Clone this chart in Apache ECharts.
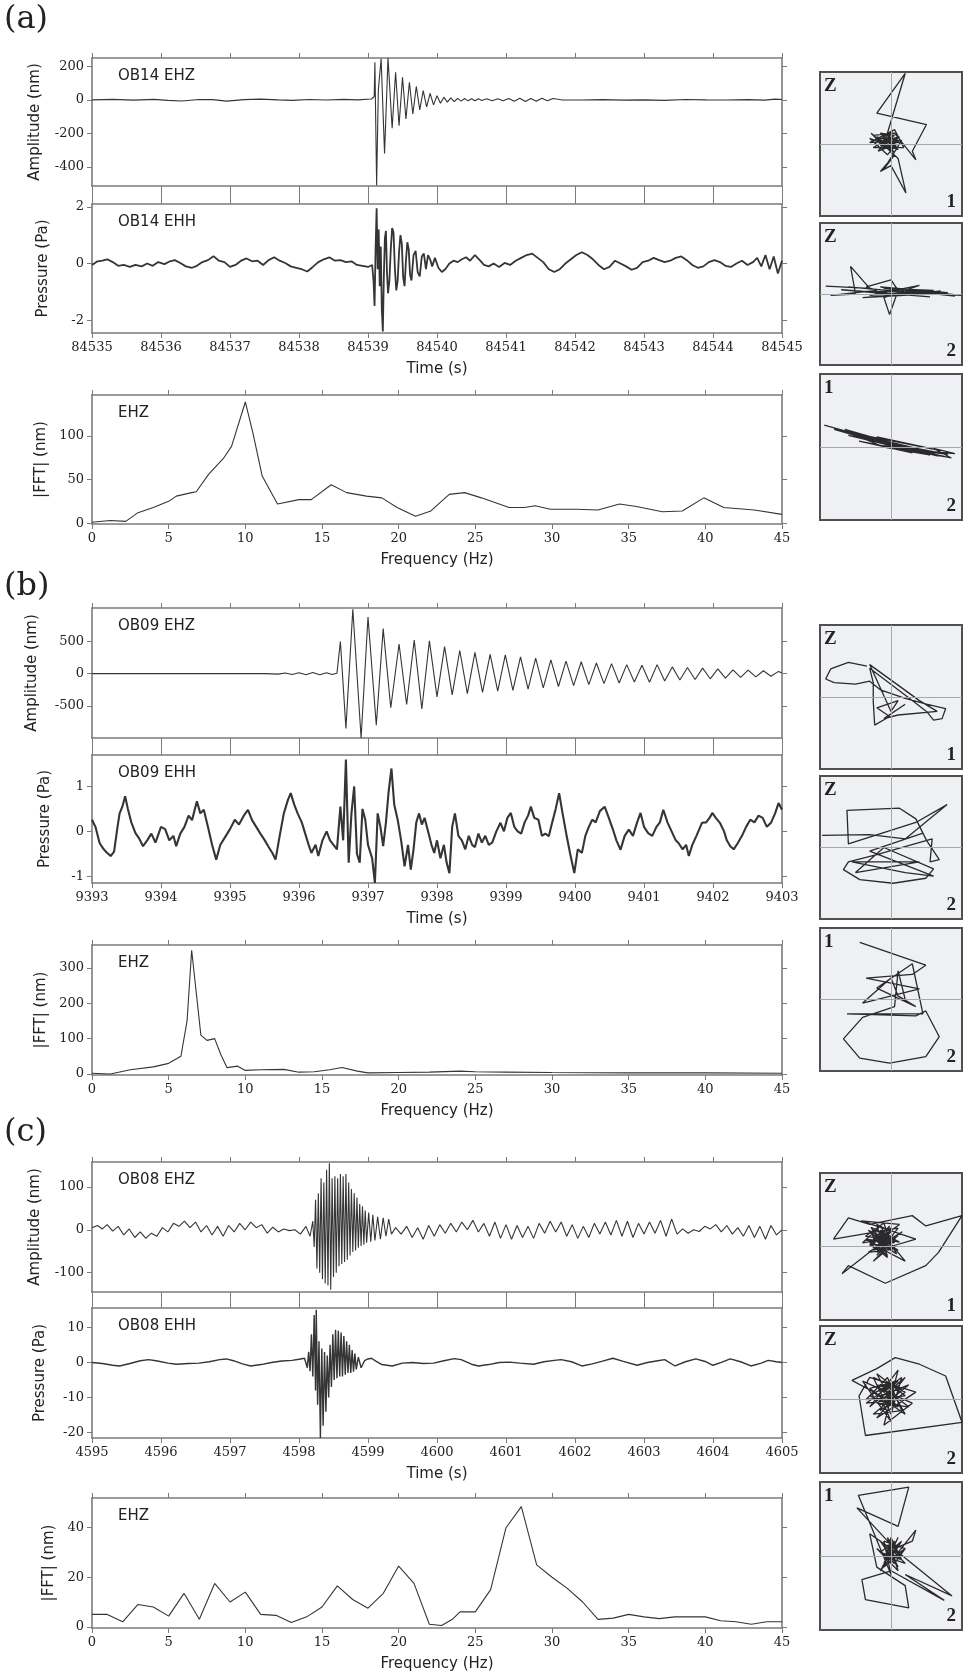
<!DOCTYPE html>
<html><head><meta charset="utf-8">
<script src="https://cdn.jsdelivr.net/npm/echarts@6/dist/echarts.min.js"></script>
<style>html,body{margin:0;padding:0;background:#fff}#c{width:965px;height:1680px}</style>
</head><body><div id="c"></div>
<script>
// ---------- DATA ----------
// (a) OB14
const aEhz = [[84535.00,0],[84535.30,3],[84535.60,-2],[84535.90,3],[84536.10,-3],[84536.30,-7],[84536.55,2],[84536.75,1],[84536.95,-8],[84537.20,1],[84537.45,4],[84537.70,0],[84537.90,-3],[84538.15,2],[84538.40,-1],[84538.65,3],[84538.85,0],[84539.05,5],
[84539.09,20],[84539.10,225],[84539.125,-510],[84539.15,60],[84539.19,245],[84539.24,-320],[84539.29,250],[84539.35,-170],[84539.40,165],[84539.45,-155],[84539.50,135],[84539.55,-115],[84539.60,105],[84539.65,-85],[84539.70,80],[84539.75,-60],[84539.80,55],[84539.85,-42],[84539.90,38],[84539.95,-30],[84540.00,25],[84540.05,-20],[84540.10,16],[84540.15,-14],[84540.20,12],[84540.25,-10],[84540.30,9],[84540.35,-8],[84540.40,8],[84540.45,-6],[84540.50,6],[84540.55,-5],[84540.60,6],[84540.65,-4],[84540.72,6],[84540.80,-5],[84540.88,7],[84540.96,-6],[84541.04,8],[84541.12,-8],[84541.20,9],[84541.28,-10],[84541.36,8],[84541.44,-9],[84541.52,10],[84541.60,-6],[84541.68,8],[84541.80,0],[84542.10,-1],[84542.40,1],[84542.70,-2],[84543.00,0],[84543.30,-3],[84543.60,2],[84543.90,0],[84544.20,-1],[84544.50,1],[84544.75,-2],[84544.90,4],[84545.00,2]];
const aEhh = [[84535.00,-0.05],[84535.08,0.08],[84535.15,0.1],[84535.22,0.15],[84535.30,0.05],[84535.38,-0.08],[84535.46,-0.05],[84535.55,-0.12],[84535.63,-0.05],[84535.72,-0.1],[84535.80,0.0],[84535.88,-0.08],[84535.96,0.05],[84536.05,-0.02],[84536.13,0.08],[84536.20,0.12],[84536.28,0.02],[84536.36,-0.1],[84536.45,-0.15],[84536.52,-0.08],[84536.60,0.05],[84536.68,0.12],[84536.76,0.26],[84536.84,0.1],[84536.92,0.05],[84537.00,-0.12],[84537.08,-0.05],[84537.16,0.1],[84537.24,0.18],[84537.32,0.08],[84537.40,0.1],[84537.48,-0.05],[84537.56,0.12],[84537.64,0.22],[84537.72,0.1],[84537.80,0.02],[84537.88,-0.1],[84537.96,-0.15],[84538.04,-0.2],[84538.12,-0.28],[84538.20,-0.12],[84538.28,0.05],[84538.36,0.15],[84538.44,0.22],[84538.52,0.1],[84538.60,0.12],[84538.68,0.05],[84538.76,0.08],[84538.84,-0.05],[84538.92,-0.08],[84539.00,-0.12],[84539.06,-0.05],
[84539.08,-0.6],[84539.095,-1.5],[84539.11,0.5],[84539.125,1.95],[84539.14,-0.2],[84539.155,1.2],[84539.17,-0.8],[84539.185,0.6],[84539.20,-1.6],[84539.215,-2.4],[84539.23,-0.4],[84539.245,0.9],[84539.26,1.15],[84539.275,-0.3],[84539.29,-1.05],[84539.31,-0.6],[84539.33,0.5],[84539.35,1.25],[84539.37,1.1],[84539.39,-0.2],[84539.41,-0.95],[84539.43,-0.6],[84539.45,0.4],[84539.47,1.0],[84539.49,0.7],[84539.51,-0.5],[84539.53,-0.8],[84539.55,0.1],[84539.57,0.75],[84539.59,0.5],[84539.61,-0.4],[84539.63,-0.6],[84539.66,0.3],[84539.69,0.45],[84539.72,-0.3],[84539.75,-0.45],[84539.78,0.25],[84539.81,0.35],[84539.84,-0.2],[84539.87,0.3],[84539.90,0.15],[84539.93,-0.1],[84539.97,0.2],[84540.02,-0.15],[84540.07,-0.3],[84540.12,-0.2],[84540.18,0.0],[84540.24,0.1],[84540.30,0.05],[84540.36,0.15],[84540.42,0.22],[84540.48,0.1],[84540.55,0.3],[84540.62,0.12],[84540.68,-0.05],[84540.75,-0.1],[84540.82,0.0],[84540.90,-0.12],[84540.98,0.02],[84541.06,-0.05],[84541.14,0.1],[84541.22,0.2],[84541.30,0.3],[84541.38,0.35],[84541.46,0.2],[84541.54,0.05],[84541.62,-0.2],[84541.70,-0.3],[84541.78,-0.2],[84541.86,0.0],[84541.94,0.15],[84542.02,0.3],[84542.10,0.4],[84542.18,0.3],[84542.26,0.15],[84542.34,-0.05],[84542.42,-0.2],[84542.50,-0.12],[84542.58,0.1],[84542.66,0.0],[84542.74,-0.1],[84542.82,-0.22],[84542.90,-0.15],[84542.98,0.05],[84543.06,0.1],[84543.14,0.2],[84543.22,0.12],[84543.30,0.05],[84543.38,0.1],[84543.46,0.2],[84543.54,0.25],[84543.62,0.12],[84543.70,-0.05],[84543.78,-0.15],[84543.86,-0.1],[84543.94,0.05],[84544.02,0.12],[84544.10,0.05],[84544.18,-0.08],[84544.26,-0.12],[84544.34,0.0],[84544.42,0.1],[84544.50,-0.05],[84544.58,0.05],[84544.64,0.2],[84544.70,-0.1],[84544.76,0.3],[84544.82,-0.2],[84544.88,0.25],[84544.94,-0.35],[84545.00,0.1]];
const aFreq = [0,1.2,2.2,3,4,5,5.5,6.5,6.8,7.6,8.6,9.1,10,10.5,11.1,12.1,13.5,14.3,15.6,16.6,17.9,18.9,19.9,21.1,22.1,23.3,24.3,25.4,27.2,28.2,28.9,29.9,31.6,33,34.4,35.5,37.2,38.5,39.9,41.2,43.2,45];
const aAmp  = [1,3,2,12,18,25,31,35,36,56,75,88,139,103,54,22,27,27,44,35,31,29,18,8,14,33,35,29,18,18,20,16,16,15,22,19,13,14,29,18,15,10];

// (b) OB09
const bEhz = [[9393.0,0],[9395.5,0],[9395.7,-8],[9395.8,10],[9395.9,-12],[9396.0,14],[9396.1,-16],[9396.2,18],[9396.3,-18],[9396.4,15],[9396.48,-12],[9396.55,5],[9396.6,500],[9396.68,-850],[9396.78,1000],[9396.9,-1000],[9397.0,880],[9397.12,-800],[9397.22,700],[9397.33,-530],[9397.45,460],[9397.56,-480],[9397.67,520],[9397.78,-550],[9397.89,510],[9398.0,-360],[9398.11,420],[9398.22,-330],[9398.33,360],[9398.44,-310],[9398.55,330],[9398.66,-290],[9398.77,300],[9398.88,-270],[9398.99,290],[9399.1,-260],[9399.21,260],[9399.32,-240],[9399.43,240],[9399.54,-220],[9399.65,215],[9399.76,-200],[9399.87,195],[9399.98,-185],[9400.09,185],[9400.2,-170],[9400.31,165],[9400.42,-155],[9400.53,155],[9400.64,-145],[9400.75,140],[9400.86,-130],[9400.97,130],[9401.08,-135],[9401.19,140],[9401.3,-115],[9401.41,105],[9401.52,-100],[9401.63,95],[9401.74,-90],[9401.85,85],[9401.96,-80],[9402.07,75],[9402.18,-70],[9402.29,60],[9402.4,-58],[9402.51,55],[9402.62,-50],[9402.73,45],[9402.84,-40],[9402.95,35],[9403.0,10]];
const bEhh = [[9393.00,0.26],[9393.05,0.1],[9393.11,-0.26],[9393.17,-0.4],[9393.22,-0.48],[9393.27,-0.55],[9393.32,-0.45],[9393.37,0.1],[9393.40,0.4],[9393.44,0.55],[9393.48,0.78],[9393.52,0.5],[9393.57,0.2],[9393.63,-0.04],[9393.68,-0.15],[9393.74,-0.33],[9393.80,-0.2],[9393.86,-0.05],[9393.92,-0.25],[9394.00,0.1],[9394.06,0.05],[9394.12,-0.2],[9394.18,-0.1],[9394.22,-0.33],[9394.28,-0.05],[9394.34,0.1],[9394.40,0.35],[9394.45,0.25],[9394.52,0.67],[9394.57,0.4],[9394.62,0.48],[9394.68,0.1],[9394.74,-0.3],[9394.80,-0.63],[9394.86,-0.3],[9394.92,-0.15],[9395.00,0.05],[9395.07,0.26],[9395.13,0.15],[9395.20,0.35],[9395.26,0.48],[9395.32,0.25],[9395.38,0.1],[9395.44,-0.05],[9395.50,-0.19],[9395.56,-0.35],[9395.62,-0.5],[9395.66,-0.63],[9395.72,-0.1],[9395.78,0.4],[9395.84,0.7],[9395.88,0.85],[9395.93,0.6],[9395.98,0.4],[9396.04,0.2],[9396.10,-0.1],[9396.14,-0.3],[9396.18,-0.48],[9396.24,-0.3],[9396.28,-0.55],[9396.34,-0.2],[9396.40,0.0],[9396.45,-0.2],[9396.50,-0.3],[9396.55,-0.4],[9396.60,0.55],[9396.64,-0.2],[9396.68,1.6],[9396.72,-0.7],[9396.76,0.4],[9396.80,1.0],[9396.84,-0.5],[9396.88,-0.7],[9396.92,0.5],[9396.96,0.26],[9397.00,-0.3],[9397.06,-0.6],[9397.10,-1.15],[9397.14,0.4],[9397.18,0.1],[9397.22,-0.33],[9397.26,0.2],[9397.30,0.9],[9397.34,1.4],[9397.38,0.6],[9397.43,0.26],[9397.48,-0.2],[9397.53,-0.78],[9397.58,-0.3],[9397.62,-0.85],[9397.66,-0.4],[9397.70,0.2],[9397.74,0.4],[9397.78,0.15],[9397.82,0.3],[9397.87,0.0],[9397.92,-0.3],[9397.96,-0.48],[9398.00,-0.2],[9398.05,-0.6],[9398.10,-0.3],[9398.14,-0.7],[9398.18,-0.93],[9398.22,0.1],[9398.26,0.4],[9398.31,-0.1],[9398.36,-0.2],[9398.41,-0.4],[9398.46,-0.1],[9398.51,-0.3],[9398.55,-0.35],[9398.60,-0.05],[9398.65,-0.25],[9398.70,-0.1],[9398.75,-0.3],[9398.80,-0.25],[9398.86,0.0],[9398.92,0.19],[9398.97,0.0],[9399.02,0.3],[9399.07,0.41],[9399.12,0.1],[9399.17,0.0],[9399.22,-0.05],[9399.27,0.2],[9399.32,0.35],[9399.36,0.55],[9399.41,0.3],[9399.47,0.26],[9399.52,-0.1],[9399.57,-0.05],[9399.62,-0.11],[9399.67,0.2],[9399.72,0.5],[9399.77,0.85],[9399.82,0.4],[9399.88,-0.11],[9399.93,-0.5],[9399.99,-0.93],[9400.04,-0.4],[9400.10,-0.48],[9400.15,-0.1],[9400.20,0.1],[9400.25,0.26],[9400.30,0.2],[9400.36,0.45],[9400.43,0.55],[9400.49,0.3],[9400.55,0.04],[9400.60,-0.2],[9400.66,-0.41],[9400.72,-0.1],[9400.78,0.04],[9400.84,-0.1],[9400.90,0.2],[9400.95,0.41],[9401.00,0.1],[9401.06,-0.04],[9401.12,-0.1],[9401.18,0.1],[9401.23,0.2],[9401.28,0.48],[9401.34,0.2],[9401.40,0.0],[9401.46,-0.2],[9401.50,-0.26],[9401.56,-0.4],[9401.61,-0.3],[9401.65,-0.55],[9401.70,-0.3],[9401.76,-0.1],[9401.84,0.19],[9401.90,0.2],[9401.95,0.3],[9401.99,0.41],[9402.04,0.3],[9402.10,0.19],[9402.16,0.0],[9402.20,-0.2],[9402.25,-0.33],[9402.30,-0.4],[9402.36,-0.26],[9402.42,-0.1],[9402.48,0.1],[9402.54,0.26],[9402.60,0.2],[9402.66,0.35],[9402.72,0.3],[9402.78,0.1],[9402.84,0.19],[9402.90,0.4],[9402.95,0.63],[9403.00,0.48]];
const bFreq = [0,1.2,2.5,4,5,5.8,6.2,6.5,6.8,7.1,7.5,8,8.4,8.8,9.5,10,11,12.5,13.5,14.5,15.5,16.3,17.3,18,20,22,24,25,27,30,35,40,45];
const bAmp  = [2,0,12,20,30,50,150,350,230,110,95,100,55,18,22,10,12,13,5,6,12,18,8,3,4,5,8,6,5,4,3,3,2];

// (c) OB08
const cEhz = [[4595.00,5],[4595.08,10],[4595.15,2],[4595.22,12],[4595.30,-3],[4595.38,8],[4595.46,-12],[4595.54,2],[4595.62,-18],[4595.70,-5],[4595.78,-20],[4595.86,-8],[4595.94,-15],[4596.02,5],[4596.10,-5],[4596.18,15],[4596.26,8],[4596.34,20],[4596.42,5],[4596.50,18],[4596.58,-5],[4596.66,10],[4596.74,-12],[4596.82,8],[4596.90,-15],[4596.98,10],[4597.06,-5],[4597.14,15],[4597.22,0],[4597.30,18],[4597.38,5],[4597.46,12],[4597.54,-8],[4597.62,6],[4597.70,-5],[4597.78,2],[4597.86,-2],[4597.94,0],[4598.02,-10],[4598.10,8],[4598.16,-15],[4598.20,20],
[4598.22,-40],[4598.24,70],[4598.26,-90],[4598.28,85],[4598.30,-100],[4598.32,120],[4598.34,-115],[4598.36,110],[4598.38,-125],[4598.40,140],[4598.42,-130],[4598.44,155],[4598.46,-140],[4598.48,120],[4598.50,-110],[4598.52,125],[4598.54,-100],[4598.56,120],[4598.58,-85],[4598.60,130],[4598.62,-80],[4598.64,125],[4598.66,-75],[4598.68,130],[4598.70,-70],[4598.72,110],[4598.74,-60],[4598.76,95],[4598.78,-52],[4598.80,85],[4598.82,-48],[4598.84,75],[4598.86,-42],[4598.88,60],[4598.90,-38],[4598.92,55],[4598.94,-35],[4598.96,45],[4598.98,-30],[4599.01,40],[4599.04,-28],[4599.07,35],[4599.10,-25],[4599.14,30],[4599.18,-22],[4599.22,28],[4599.26,-15],[4599.30,25],[4599.34,-10],
[4599.40,5],[4599.48,-10],[4599.56,8],[4599.64,-18],[4599.72,5],[4599.80,-22],[4599.88,10],[4599.96,-15],[4600.04,12],[4600.12,-8],[4600.20,15],[4600.28,-5],[4600.36,18],[4600.44,0],[4600.52,22],[4600.60,-5],[4600.68,15],[4600.76,-15],[4600.84,18],[4600.92,-20],[4601.00,12],[4601.08,-22],[4601.16,10],[4601.24,-18],[4601.32,8],[4601.40,-20],[4601.48,15],[4601.56,-8],[4601.64,20],[4601.72,-5],[4601.80,18],[4601.88,-15],[4601.96,12],[4602.04,-20],[4602.12,8],[4602.20,-18],[4602.28,15],[4602.36,-10],[4602.44,18],[4602.52,-12],[4602.60,22],[4602.68,-15],[4602.76,20],[4602.84,-18],[4602.92,15],[4603.00,-10],[4603.08,18],[4603.16,-8],[4603.24,22],[4603.32,-15],[4603.40,25],[4603.48,-10],[4603.56,2],[4603.64,-8],[4603.72,0],[4603.80,-4],[4603.88,8],[4603.96,2],[4604.04,12],[4604.12,-5],[4604.20,10],[4604.28,-10],[4604.36,5],[4604.44,-15],[4604.52,10],[4604.60,-18],[4604.68,8],[4604.76,-22],[4604.84,10],[4604.92,-12],[4605.00,0]];
const cEhh = [[4595.00,0],[4595.15,-0.3],[4595.30,-0.8],[4595.40,-1.0],[4595.55,-0.3],[4595.70,0.5],[4595.82,0.8],[4595.95,0.4],[4596.10,-0.2],[4596.22,-0.5],[4596.40,-0.3],[4596.55,-0.2],[4596.70,0.2],[4596.85,0.8],[4596.95,1.0],[4597.05,0.5],[4597.18,-0.4],[4597.30,-1.0],[4597.45,-0.6],[4597.60,0.0],[4597.75,0.4],[4597.90,0.6],[4598.00,0.9],[4598.08,1.2],
[4598.12,-1.5],[4598.14,3],[4598.16,-2.5],[4598.18,8],[4598.20,-4],[4598.22,13.5],[4598.24,-8],[4598.25,15],[4598.27,-12],[4598.29,6],[4598.31,-21.5],[4598.33,4],[4598.35,-18],[4598.37,3],[4598.39,-14],[4598.41,2],[4598.43,-10],[4598.45,5],[4598.47,-7],[4598.49,8],[4598.51,-5],[4598.53,9.3],[4598.55,-4.5],[4598.57,9],[4598.59,-4],[4598.61,8.5],[4598.63,-4],[4598.65,7.5],[4598.67,-3.5],[4598.69,6],[4598.71,-3],[4598.73,5],[4598.75,-3],[4598.77,3.5],[4598.79,-2.6],[4598.81,2.5],[4598.83,-2],[4598.86,1.5],[4598.90,-1.5],[4598.95,0.5],[4599.00,1.0],[4599.05,1.2],[4599.12,0.3],
[4599.20,-0.6],[4599.35,-1.0],[4599.50,-0.2],[4599.65,0.0],[4599.80,-0.3],[4599.95,-0.2],[4600.10,0.5],[4600.25,1.1],[4600.35,0.8],[4600.50,-0.5],[4600.60,-1.0],[4600.75,-0.6],[4600.90,0.0],[4601.05,0.1],[4601.20,-0.2],[4601.40,-0.5],[4601.55,0.2],[4601.70,0.6],[4601.80,0.8],[4601.95,0.2],[4602.10,-1.0],[4602.25,-0.4],[4602.40,0.4],[4602.55,1.2],[4602.70,0.3],[4602.90,-0.8],[4603.05,0.0],[4603.20,0.5],[4603.30,0.8],[4603.45,-1.0],[4603.60,0.2],[4603.75,1.0],[4603.90,0.2],[4604.00,-0.8],[4604.12,0.0],[4604.25,1.0],[4604.40,0.2],[4604.55,-1.0],[4604.70,-0.2],[4604.80,0.6],[4604.92,0.2],[4605.00,0.0]];
const cFreq = [0,1,2,3,4,5,6,7,8,9,10,11,12,13,14,15,16,17,18,19,20,21,22,22.8,23.5,24,25,26,27,28,29,30,31,32,33,34,35,36,37,38,39,40,41,42,43,44,45];
const cAmp  = [5,5,2,9,8,4.3,13.5,3,17.5,10,14,5,4.6,1.7,4,8,16.5,11,7.5,13.5,24.5,17.5,1,0.5,3,6,6,15,40,48.5,25,20,15.5,10,3,3.5,5,4,3.3,4,4,4,2.4,2,1,2,2];

// tick labels
const aEhzTicks = [-400,-200,0,200], aEhhTicks = [-2,0,2], aFftTicks = [0,50,100];
const bEhzTicks = [-500,0,500], bEhhTicks = [-1,0,1], bFftTicks = [0,100,200,300];
const cEhzTicks = [-100,0,100], cEhhTicks = [-20,-10,0,10], cFftTicks = [0,20,40];

// particle motion (normalised)
const pmA1 = [[0,0],[-0.1,0.05],[0.05,0.08],[-0.15,-0.02],[0.08,-0.05],[-0.05,0.12],[0.12,0.02],[-0.2,0.05],[0.0,-0.1],[0.1,0.1],[-0.12,-0.08],[0.2,0.98],[-0.2,0.43],[0.5,0.27],[0.3,-0.1],[0.35,-0.22],[0.05,0.15],[-0.25,0.12],[0.1,-0.2],[0.21,-0.68],[0.0,-0.3],[-0.15,-0.38],[0.05,-0.15],[-0.1,-0.35],[0.15,0.05],[-0.3,0.02],[0.05,0.2],[0.18,-0.05],[-0.08,-0.05],[0.1,0.05],[-0.05,-0.02],[0.03,0.03],[-0.2,0.1],[0.0,-0.05],[-0.25,-0.05],[0.05,0.12],[-0.15,0.15],[0.1,-0.08],[-0.3,0.08],[-0.05,-0.15],[0.08,0.0],[-0.18,-0.1],[0.02,0.18],[-0.22,0.02],[0.12,0.1],[-0.08,-0.05],[-0.28,0.15],[0.05,-0.12],[-0.12,0.08],[0.0,0.05]];
const pmA2 = [[-0.92,0.11],[-0.3,0.08],[-0.57,0.39],[-0.5,0.0],[-0.85,-0.02],[-0.2,0.05],[-0.35,0.1],[0.0,0.2],[0.1,0.05],[-0.02,-0.29],[-0.1,-0.05],[0.4,0.12],[-0.3,-0.02],[0.6,0.05],[-0.1,0.08],[0.9,-0.03],[0.2,0.06],[1.0,-0.02],[0.3,0.02],[-0.6,0.1],[0.5,0.0],[-0.4,-0.05],[0.7,0.04],[0.0,0.0],[-0.7,0.06],[0.35,-0.02],[-0.15,0.1],[0.8,0.02],[-0.45,0.04],[0.55,-0.04],[0.1,0.0]];
const pmA3 = [[-0.94,0.3],[-0.5,0.18],[-0.8,0.24],[-0.3,0.1],[-0.6,0.16],[0.0,0.02],[-0.4,0.12],[0.2,-0.02],[-0.2,0.08],[0.4,-0.06],[-0.1,0.02],[0.6,-0.08],[0.1,0.03],[0.8,-0.1],[0.3,-0.04],[0.9,-0.09],[0.6,-0.02],[0.85,-0.15],[0.5,-0.08],[0.0,0.06],[-0.3,0.14],[0.2,0.0],[-0.6,0.2],[-0.1,0.0],[0.5,-0.1],[-0.45,0.08],[0.3,-0.08],[-0.2,0.14],[0.7,-0.05],[-0.7,0.22],[0.1,-0.01],[-0.55,0.2],[0.35,-0.07],[-0.35,0.15],[0.55,-0.11],[-0.15,0.06],[0.75,-0.13],[0.0,0.0],[0.45,-0.04],[-0.25,0.12],[0.65,-0.12],[-0.05,0.05],[0.25,-0.06],[-0.4,0.16],[0.15,-0.03],[-0.65,0.24],[0.4,-0.05]];
const pmB1 = [[-0.34,0.43],[-0.6,0.48],[-0.85,0.39],[-0.92,0.25],[-0.8,0.2],[-0.5,0.18],[-0.3,0.22],[-0.15,0.1],[0.2,-0.02],[0.5,-0.1],[0.77,-0.16],[0.72,-0.3],[0.6,-0.32],[0.5,-0.2],[0.3,-0.05],[-0.3,0.4],[-0.25,0.2],[-0.25,-0.06],[-0.23,-0.39],[-0.02,-0.27],[-0.2,-0.15],[0.1,-0.05],[0.0,-0.2],[-0.3,0.45],[0.4,-0.05],[0.65,-0.2],[0.1,-0.25],[-0.1,-0.3],[0.2,-0.1]];
const pmB2 = [[-0.97,0.17],[-0.3,0.18],[0.2,0.12],[0.79,0.6],[0.35,0.35],[-0.6,0.05],[-0.62,0.52],[0.12,0.55],[0.35,0.4],[0.5,0.1],[0.68,-0.17],[0.55,-0.2],[0.58,0.12],[-0.2,-0.1],[-0.6,-0.2],[-0.67,-0.31],[-0.44,-0.45],[0.03,-0.5],[0.49,-0.43],[0.6,-0.3],[-0.1,0.0],[-0.5,-0.35],[0.4,-0.2],[-0.55,-0.2],[0.2,-0.35],[0.6,-0.4],[-0.3,-0.05],[0.45,0.2]];
const pmB3 = [[-0.44,0.8],[0.49,0.48],[0.3,0.35],[-0.35,0.3],[0.4,0.15],[-0.4,-0.05],[0.0,0.3],[0.1,0.05],[0.35,-0.1],[-0.2,0.16],[0.3,0.5],[0.45,-0.2],[-0.62,-0.2],[0.35,-0.23],[0.49,-0.16],[0.68,-0.52],[0.49,-0.8],[-0.02,-0.89],[-0.44,-0.82],[-0.67,-0.55],[-0.4,-0.25],[0.05,-0.1],[0.1,0.4],[0.2,0.0]];
const pmC1 = [[-0.17,0.1],[0.02,0.22],[-0.3,0.02],[-0.05,-0.12],[-0.28,0.26],[0.12,0.06],[-0.36,0.14],[-0.1,0.32],[0.02,-0.04],[-0.32,-0.08],[0.16,0.2],[-0.22,-0.04],[-0.05,0.18],[-0.25,0.1],[0.08,-0.1],[-0.15,0.28],[-0.4,0.05],[0.05,0.12],[-0.2,-0.12],[0.1,0.25],[-0.81,0.1],[-0.6,0.39],[-0.3,0.3],[0.3,0.42],[0.49,0.28],[1.0,0.42],[0.67,-0.08],[0.49,-0.26],[-0.08,-0.5],[-0.6,-0.26],[-0.69,-0.37],[-0.2,0.0],[0.2,-0.2],[-0.1,0.15],[0.12,0.3],[-0.42,0.35],[0.35,0.1],[0.0,0.0],[-0.25,-0.2],[0.06,0.1],[-0.15,0.22],[-0.05,-0.15],[-0.3,0.05],[0.1,-0.05],[-0.2,0.15],[0.0,0.25],[-0.12,-0.02],[-0.3,0.2],[-0.05,0.0],[-0.25,-0.05],[0.0,0.2],[-0.2,0.3],[-0.1,-0.05],[-0.35,0.1],[0.05,0.05],[-0.15,0.2],[-0.28,0.0],[-0.02,0.28],[-0.2,-0.08],[0.1,0.15],[-0.12,0.05],[-0.32,0.22],[-0.08,0.12]];
const pmC2 = [[-0.1,0.1],[0.1,0.25],[-0.3,0.15],[0.05,-0.1],[-0.2,0.35],[0.2,0.05],[-0.35,0.0],[-0.05,0.3],[0.15,-0.15],[-0.25,-0.2],[0.25,0.2],[-0.15,0.05],[0.0,-0.3],[-0.4,0.25],[0.3,-0.05],[-0.1,-0.35],[0.1,0.4],[-0.3,-0.1],[0.2,0.3],[-0.05,0.0],[-0.55,0.26],[-0.2,0.42],[0.06,0.57],[0.4,0.48],[0.77,0.32],[1.0,-0.31],[-0.36,-0.49],[-0.45,0.05],[-0.3,0.3],[0.35,0.1],[-0.2,-0.25],[0.15,0.15],[-0.1,0.2],[0.05,-0.05],[-0.25,0.1],[0.2,-0.2],[0.0,0.15],[-0.2,0.2],[0.1,-0.1],[-0.3,0.05],[0.05,0.25],[-0.15,-0.15],[0.2,0.1],[-0.25,0.3],[0.0,-0.2],[0.15,0.3],[-0.35,-0.05],[0.1,0.0],[-0.1,0.15],[0.25,-0.1],[-0.2,-0.05],[0.0,0.1],[-0.05,-0.1]];
const pmC3 = [[0.0,0.0],[0.1,0.15],[-0.1,-0.1],[0.05,0.2],[-0.15,0.05],[0.15,-0.05],[-0.05,0.25],[0.1,-0.2],[-0.2,0.1],[0.05,-0.1],[0.2,0.1],[-0.1,0.2],[0.0,-0.25],[-0.46,0.82],[0.25,0.93],[0.1,0.4],[-0.48,0.65],[0.05,0.1],[0.3,0.2],[0.35,0.35],[0.1,0.05],[0.86,-0.54],[0.2,-0.25],[0.75,-0.6],[0.0,-0.2],[-0.41,-0.32],[-0.36,-0.59],[0.25,-0.7],[0.2,-0.4],[-0.2,-0.15],[-0.3,0.3],[0.15,0.0],[-0.05,-0.05],[0.1,0.25],[-0.15,-0.2],[0.05,0.05],[0.15,0.2],[-0.1,0.0],[0.2,-0.1],[-0.05,0.15],[0.1,-0.15],[-0.15,0.2],[0.05,0.0],[0.2,0.1],[-0.1,-0.15],[0.0,0.25],[0.15,-0.05],[-0.05,0.05]];

// ---------- CHART ----------
const zip = (f, a) => f.map((x, i) => [x, a[i]]);
const FRAME = '#7b7b7b', LINE = '#353535';
const SERIF = '"DejaVu Serif", serif', SANS = '"DejaVu Sans", sans-serif';
const fmt = v => String(Math.round(v * 1000) / 1000);

const panels = [
  {top:58,  h:128, data:aEhz, xr:[84535,84545], xi:1, yr:[-515,250],  yt:aEhzTicks, yname:'Amplitude (nm)', ng:49, xlab:false, xname:'', label:'OB14 EHZ', lw:1.1, gapB:true},
  {top:204, h:129, data:aEhh, xr:[84535,84545], xi:1, yr:[-2.45,2.1], yt:aEhhTicks, yname:'Pressure (Pa)', ng:41, xlab:true, xname:'Time (s)', label:'OB14 EHH', lw:1.8, gapT:true},
  {top:395, h:129, data:zip(aFreq,aAmp), xr:[0,45], xi:5, yr:[-1,147], yt:aFftTicks, yname:'|FFT| (nm)', ng:36, xlab:true, xname:'Frequency (Hz)', label:'EHZ', lw:1.1},
  {top:608, h:130, data:bEhz, xr:[9393,9403], xi:1, yr:[-1000,1020], yt:bEhzTicks, yname:'Amplitude (nm)', ng:52, xlab:false, xname:'', label:'OB09 EHZ', lw:1.1, gapB:true},
  {top:755, h:128, data:bEhh, xr:[9393,9403], xi:1, yr:[-1.15,1.7], yt:bEhhTicks, yname:'Pressure (Pa)', ng:39, xlab:true, xname:'Time (s)', label:'OB09 EHH', lw:2.1, gapT:true},
  {top:945, h:130, data:zip(bFreq,bAmp), xr:[0,45], xi:5, yr:[-3,365], yt:bFftTicks, yname:'|FFT| (nm)', ng:41, xlab:true, xname:'Frequency (Hz)', label:'EHZ', lw:1.1},
  {top:1162,h:130, data:cEhz, xr:[4595,4605], xi:1, yr:[-145,158], yt:cEhzTicks, yname:'Amplitude (nm)', ng:49, xlab:false, xname:'', label:'OB08 EHZ', lw:1.1, gapB:true},
  {top:1308,h:130, data:cEhh, xr:[4595,4605], xi:1, yr:[-21.5,15.5], yt:cEhhTicks, yname:'Pressure (Pa)', ng:44, xlab:true, xname:'Time (s)', label:'OB08 EHH', lw:1.4, gapT:true},
  {top:1498,h:130, data:zip(cFreq,cAmp), xr:[0,45], xi:5, yr:[-0.5,52], yt:cFftTicks, yname:'|FFT| (nm)', ng:34, xlab:true, xname:'Frequency (Hz)', label:'EHZ', lw:1.1}
];

const boxes = [
  {top:72,  h:144, data:pmA1, tl:'Z', br:'1'}, {top:223, h:142, data:pmA2, tl:'Z', br:'2'}, {top:374, h:146, data:pmA3, tl:'1', br:'2'},
  {top:625, h:144, data:pmB1, tl:'Z', br:'1'}, {top:776, h:143, data:pmB2, tl:'Z', br:'2'}, {top:928, h:143, data:pmB3, tl:'1', br:'2'},
  {top:1173,h:147, data:pmC1, tl:'Z', br:'1'}, {top:1326,h:147, data:pmC2, tl:'Z', br:'2'}, {top:1482,h:148, data:pmC3, tl:'1', br:'2'}
];

const grid = [], xAxis = [], yAxis = [], series = [], graphic = [];
const lineSt = {color: FRAME, width: 1.6};
const tickSt = {color: FRAME, width: 1};

panels.forEach((p, i) => {
  grid.push({left: 92, width: 690, top: p.top, height: p.h, containLabel: false});
  const xb = {
    gridIndex: i, type: 'value', position: 'bottom', min: p.xr[0], max: p.xr[1], interval: p.xi,
    axisLine: {show: true, onZero: false, lineStyle: lineSt},
    axisTick: {show: true, inside: false, length: p.gapB ? 9 : 5, lineStyle: tickSt},
    axisLabel: {show: p.xlab, formatter: fmt, fontFamily: SERIF, fontSize: 13, color: '#222', margin: 8},
    splitLine: {show: false},
    name: p.xname, nameLocation: 'middle', nameGap: 29,
    nameTextStyle: {fontFamily: SANS, fontSize: 15, color: '#222'}
  };
  const xt = {
    gridIndex: i, type: 'value', position: 'top', min: p.xr[0], max: p.xr[1], interval: p.xi,
    axisLine: {show: true, onZero: false, lineStyle: lineSt},
    axisTick: {show: true, inside: false, length: p.gapT ? 9 : 5, lineStyle: tickSt},
    axisLabel: {show: false}, splitLine: {show: false}
  };
  const yl = {
    gridIndex: i, type: 'value', position: 'left', min: p.yr[0], max: p.yr[1],
    axisLine: {show: true, onZero: false, lineStyle: lineSt},
    axisTick: {show: true, inside: false, length: 5, lineStyle: tickSt, customValues: p.yt},
    axisLabel: {show: true, customValues: p.yt, formatter: fmt, fontFamily: SERIF, fontSize: 13, color: '#222', margin: 8},
    splitLine: {show: false},
    name: p.yname, nameLocation: 'middle', nameGap: p.ng,
    nameTextStyle: {fontFamily: SANS, fontSize: 15, color: '#222'}
  };
  const yr = {
    gridIndex: i, type: 'value', position: 'right', min: p.yr[0], max: p.yr[1],
    axisLine: {show: true, onZero: false, lineStyle: lineSt},
    axisTick: {show: true, inside: false, length: 5, lineStyle: tickSt, customValues: p.yt},
    axisLabel: {show: false}, splitLine: {show: false}
  };
  xAxis.push(xb, xt); yAxis.push(yl, yr);
  series.push({
    type: 'line', xAxisIndex: 2 * i, yAxisIndex: 2 * i, data: p.data,
    showSymbol: false, symbol: 'none', silent: true, clip: true,
    lineStyle: {color: LINE, width: p.lw}
  });
  graphic.push({type: 'text', x: 118, y: p.top + 18, silent: true,
    style: {text: p.label, font: '15px ' + SANS, fill: '#222', verticalAlign: 'middle'}});
});

const nP = panels.length;
boxes.forEach((b, j) => {
  const gi = nP + j;
  grid.push({left: 820, width: 142, top: b.top, height: b.h, show: true,
    backgroundColor: '#eef0f4', borderColor: '#505050', borderWidth: 2, containLabel: false});
  xAxis.push({gridIndex: gi, type: 'value', min: -1, max: 1, show: false});
  yAxis.push({gridIndex: gi, type: 'value', min: -1, max: 1, show: false});
  series.push({
    type: 'line', xAxisIndex: xAxis.length - 1, yAxisIndex: yAxis.length - 1, data: b.data,
    showSymbol: false, symbol: 'none', silent: true, clip: true,
    lineStyle: {color: '#2a2a2a', width: 1.3},
    markLine: {silent: true, symbol: ['none', 'none'], label: {show: false},
      lineStyle: {color: '#a4a9b1', type: 'solid', width: 1}, data: [{xAxis: 0}, {yAxis: 0}]}
  });
  graphic.push({type: 'text', x: 824, y: b.top + 5, silent: true, z: 10,
    style: {text: b.tl, font: 'bold 19px "Liberation Serif", serif', fill: '#222', verticalAlign: 'top'}});
  graphic.push({type: 'text', x: 956, y: b.top + b.h - 4, silent: true, z: 10,
    style: {text: b.br, font: 'bold 19px "Liberation Serif", serif', fill: '#222', align: 'right', verticalAlign: 'bottom'}});
});

[['(a)', 20], ['(b)', 587], ['(c)', 1133]].forEach(([t, y]) => {
  graphic.push({type: 'text', x: 4, y: y, silent: true,
    style: {text: t, font: '32px ' + SERIF, fill: '#222', verticalAlign: 'middle'}});
});

const chart = echarts.init(document.getElementById('c'), null, {renderer: 'canvas', width: 965, height: 1680});
chart.setOption({
  animation: false,
  backgroundColor: '#ffffff',
  grid, xAxis, yAxis, series, graphic
});
</script></body></html>
